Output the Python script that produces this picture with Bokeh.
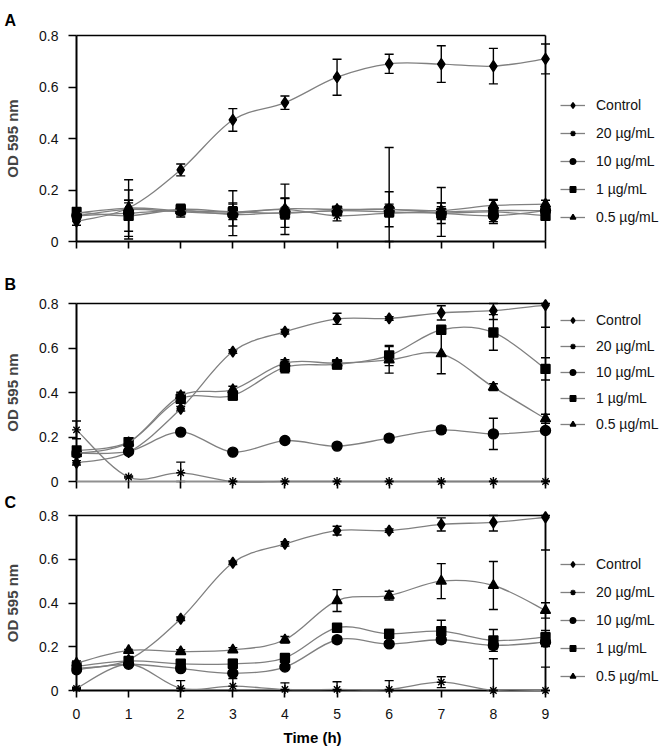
import numpy as np
from bokeh.plotting import figure
from bokeh.models import (ColumnDataSource, Whisker, TeeHead, Legend, LegendItem,
                          FixedTicker, Range1d, CustomJSTickFormatter, Title)
from bokeh.layouts import column
from bokeh.embed import file_html
from bokeh.resources import INLINE

# ---------------- data ----------------
hours = [0, 1, 2, 3, 4, 5, 6, 7, 8, 9]
series_labels = ["Control", "20 \u00b5g/mL", "10 \u00b5g/mL", "1 \u00b5g/mL", "0.5 \u00b5g/mL"]
y_ticks = [0, 0.2, 0.4, 0.6, 0.8]

# Panel A
ctrl_A = [0.078, 0.130, 0.278, 0.472, 0.539, 0.638, 0.690, 0.689, 0.681, 0.709]
ctrl_A_err = [0.015, 0.020, 0.023, 0.044, 0.026, 0.070, 0.037, 0.071, 0.069, 0.058]
c20_A = [0.100, 0.125, 0.115, 0.110, 0.125, 0.100, 0.110, 0.115, 0.120, 0.120]
c20_A_err = [0.020, 0.115, 0.020, 0.087, 0.098, 0.020, 0.255, 0.095, 0.043, 0.020]
c10_A = [0.100, 0.110, 0.120, 0.105, 0.112, 0.120, 0.125, 0.110, 0.100, 0.120]
c10_A_err = [0.015, 0.090, 0.015, 0.045, 0.057, 0.013, 0.068, 0.040, 0.030, 0.020]
c1_A = [0.115, 0.100, 0.125, 0.115, 0.110, 0.120, 0.115, 0.110, 0.115, 0.100]
c1_A_err = [0.010, 0.060, 0.020, 0.030, 0.020, 0.015, 0.020, 0.025, 0.020, 0.015]
c05_A = [0.110, 0.130, 0.120, 0.115, 0.127, 0.125, 0.125, 0.120, 0.140, 0.145]
c05_A_err = [0.010, 0.030, 0.015, 0.020, 0.040, 0.010, 0.020, 0.030, 0.020, 0.015]

# Panel B
ctrl_B = [0.084, 0.132, 0.327, 0.584, 0.673, 0.731, 0.733, 0.758, 0.768, 0.793]
ctrl_B_err = [0.010, 0.008, 0.010, 0.008, 0.010, 0.025, 0.008, 0.032, 0.040, 0.100]
c20_B = [0.232, 0.020, 0.039, 0.000, 0.000, 0.000, 0.000, 0.000, 0.000, 0.000]
c20_B_err = [0.040, 0.005, 0.048, 0.003, 0.003, 0.003, 0.003, 0.003, 0.003, 0.003]
c10_B = [0.127, 0.135, 0.222, 0.132, 0.184, 0.159, 0.195, 0.232, 0.214, 0.229]
c10_B_err = [0.010, 0.008, 0.008, 0.010, 0.010, 0.008, 0.012, 0.015, 0.070, 0.010]
c1_B = [0.139, 0.177, 0.372, 0.386, 0.514, 0.526, 0.566, 0.682, 0.670, 0.506]
c1_B_err = [0.010, 0.010, 0.020, 0.020, 0.025, 0.020, 0.045, 0.010, 0.080, 0.050]
c05_B = [0.125, 0.175, 0.386, 0.413, 0.532, 0.532, 0.547, 0.574, 0.424, 0.282]
c05_B_err = [0.010, 0.010, 0.015, 0.015, 0.015, 0.015, 0.060, 0.090, 0.015, 0.020]

# Panel C
ctrl_C = [0.100, 0.140, 0.328, 0.584, 0.670, 0.731, 0.731, 0.759, 0.769, 0.792]
ctrl_C_err = [0.010, 0.010, 0.008, 0.008, 0.010, 0.020, 0.008, 0.030, 0.040, 0.150]
c20_C = [0.010, 0.120, 0.010, 0.020, 0.005, 0.005, 0.005, 0.038, 0.000, 0.000]
c20_C_err = [0.005, 0.010, 0.035, 0.035, 0.030, 0.035, 0.040, 0.025, 0.145, 0.107]
c10_C = [0.095, 0.120, 0.100, 0.079, 0.107, 0.232, 0.213, 0.232, 0.206, 0.221]
c10_C_err = [0.010, 0.010, 0.010, 0.010, 0.010, 0.015, 0.010, 0.015, 0.015, 0.020]
c1_C = [0.110, 0.135, 0.122, 0.122, 0.149, 0.287, 0.259, 0.271, 0.229, 0.244]
c1_C_err = [0.020, 0.020, 0.015, 0.020, 0.010, 0.010, 0.020, 0.050, 0.050, 0.030]
c05_C = [0.125, 0.183, 0.178, 0.186, 0.232, 0.411, 0.434, 0.500, 0.480, 0.366]
c05_C_err = [0.010, 0.005, 0.008, 0.010, 0.015, 0.050, 0.020, 0.080, 0.110, 0.035]

# ---------------- styling ----------------
FONT = "Liberation Sans"
markers = ["diamond", "asterisk", "circle", "square", "triangle"]
marker_sizes = [11, 9, 10, 9, 10]
LINE_GRAY = "#808080"
X_MIN, X_MAX = 0, 9
Y_MIN, Y_MAX = 0, 0.8
FIG_W = 662
BORDER_L = 71
INNER_W = 469   # px between x=0 and x=9
PAD = 5         # px padding inside the frame so edge markers are not clipped


def smooth_ctrl(xs, ys):
    xs = np.asarray(xs, float)
    ys = np.asarray(ys, float)
    n = len(xs)
    out = {k: [] for k in ("x0", "y0", "x1", "y1", "cx0", "cy0", "cx1", "cy1")}
    for i in range(n - 1):
        i0 = max(i - 1, 0)
        i3 = min(i + 2, n - 1)
        out["x0"].append(xs[i]); out["y0"].append(ys[i])
        out["x1"].append(xs[i + 1]); out["y1"].append(ys[i + 1])
        out["cx0"].append(xs[i] + (xs[i + 1] - xs[i0]) / 6)
        out["cy0"].append(ys[i] + (ys[i + 1] - ys[i0]) / 6)
        out["cx1"].append(xs[i + 1] - (xs[i3] - xs[i]) / 6)
        out["cy1"].append(ys[i + 1] - (ys[i3] - ys[i]) / 6)
    return out


def make_panel(letter, values, errs, inner_h, fig_h, border_top, border_bottom,
               title_standoff, leg_vy, leg_spacing, show_x_labels, bottom_color):
    ppu = INNER_W / (X_MAX - X_MIN)
    frame_w = FIG_W - BORDER_L
    x_start = X_MIN - PAD / ppu
    x_end = x_start + frame_w / ppu
    pad_y = PAD * (Y_MAX - Y_MIN) / inner_h
    p = figure(width=FIG_W, height=fig_h, output_backend="svg", toolbar_location=None,
               x_range=Range1d(x_start, x_end),
               y_range=Range1d(Y_MIN - pad_y, Y_MAX + pad_y),
               min_border_left=BORDER_L, min_border_right=0,
               min_border_top=border_top, min_border_bottom=border_bottom)
    p.outline_line_color = None
    p.grid.visible = False
    p.background_fill_color = "white"
    p.border_fill_color = "white"

    # panel letter as left-shifted title
    p.title.text = letter
    p.title.align = "left"
    p.title.offset = -67
    p.title.standoff = title_standoff
    p.title.text_font = FONT
    p.title.text_font_style = "bold"
    p.title.text_font_size = "16px"
    p.title.text_color = "black"

    # frame lines (axes + border)
    p.segment(x0=[X_MIN, X_MIN, X_MIN, X_MAX], y0=[Y_MIN, Y_MIN, Y_MAX, Y_MIN],
              x1=[X_MIN, X_MAX, X_MAX, X_MAX], y1=[Y_MAX, Y_MIN, Y_MAX, Y_MAX],
              line_color=["black", bottom_color, "black", "black"],
              line_width=[2, 2, 1.6, 1.6])

    items = []
    for k in range(5):
        src = ColumnDataSource(smooth_ctrl(hours, values[k]))
        br = p.bezier(x0="x0", y0="y0", x1="x1", y1="y1", cx0="cx0", cy0="cy0",
                      cx1="cx1", cy1="cy1", source=src, line_color=LINE_GRAY, line_width=1.3)
        v = np.asarray(values[k]); e = np.asarray(errs[k])
        wsrc = ColumnDataSource(dict(x=hours,
                                     upper=np.clip(v + e, Y_MIN, Y_MAX),
                                     lower=np.clip(v - e, Y_MIN, Y_MAX)))
        w = Whisker(source=wsrc, base="x", upper="upper", lower="lower",
                    line_color="black", line_width=1.4,
                    upper_head=TeeHead(size=9, line_color="black", line_width=1.4),
                    lower_head=TeeHead(size=9, line_color="black", line_width=1.4))
        p.add_layout(w)
        sr = p.scatter(x=hours, y=values[k], marker=markers[k], size=marker_sizes[k],
                       fill_color="black", line_color="black", line_width=1.4)
        items.append(LegendItem(label=series_labels[k], renderers=[br, sr]))

    leg = Legend(items=items, location=(489, leg_vy), glyph_width=25, glyph_height=14,
                 label_height=14, spacing=leg_spacing, label_standoff=11, padding=0, margin=0,
                 border_line_color=None, background_fill_alpha=0,
                 label_text_font=FONT, label_text_font_size="14px", label_text_color="#111111")
    p.add_layout(leg)

    # axes
    p.yaxis.ticker = FixedTicker(ticks=y_ticks)
    p.yaxis.formatter = CustomJSTickFormatter(code="return tick == 0 ? '0' : tick.toFixed(1);")
    p.yaxis.axis_line_color = None
    p.yaxis.major_tick_in = PAD
    p.yaxis.major_tick_out = 3
    p.yaxis.major_tick_line_width = 1.6
    p.yaxis.minor_tick_line_color = None
    p.yaxis.major_label_standoff = 10
    p.yaxis.major_label_text_font = FONT
    p.yaxis.major_label_text_font_size = "14px"
    p.yaxis.major_label_text_color = "#111111"
    p.yaxis.axis_label = "OD 595 nm"
    p.yaxis.axis_label_text_font = FONT
    p.yaxis.axis_label_text_font_style = "bold"
    p.yaxis.axis_label_text_font_size = "15px"
    p.yaxis.axis_label_standoff = 15

    p.xaxis.ticker = FixedTicker(ticks=hours)
    p.xaxis.axis_line_color = None
    p.xaxis.major_tick_in = PAD
    p.xaxis.major_tick_out = 2
    p.xaxis.major_tick_line_width = 1.6
    p.xaxis.minor_tick_line_color = None
    if show_x_labels:
        p.xaxis.major_label_text_font = FONT
        p.xaxis.major_label_text_font_size = "14px"
        p.xaxis.major_label_text_color = "#111111"
        p.xaxis.major_label_standoff = 11
        p.add_layout(Title(text="Time (h)", align="left", offset=212, standoff=10,
                           text_font=FONT, text_font_style="bold", text_font_size="15px",
                           text_color="black"), "below")
    else:
        p.xaxis.formatter = CustomJSTickFormatter(code="return '';")
        p.xaxis.major_label_standoff = 0
    return p


pA = make_panel("A", [ctrl_A, c20_A, c10_A, c1_A, c05_A],
                [ctrl_A_err, c20_A_err, c10_A_err, c1_A_err, c05_A_err],
                inner_h=206, fig_h=262, border_top=30, border_bottom=16, title_standoff=4,
                leg_vy=21, leg_spacing=12, show_x_labels=False, bottom_color="black")
pB = make_panel("B", [ctrl_B, c20_B, c10_B, c1_B, c05_B],
                [ctrl_B_err, c20_B_err, c10_B_err, c1_B_err, c05_B_err],
                inner_h=178, fig_h=228, border_top=36, border_bottom=4, title_standoff=12,
                leg_vy=54, leg_spacing=10, show_x_labels=False, bottom_color="#909090")
pC = make_panel("C", [ctrl_C, c20_C, c10_C, c1_C, c05_C],
                [ctrl_C_err, c20_C_err, c10_C_err, c1_C_err, c05_C_err],
                inner_h=175, fig_h=262, border_top=20, border_bottom=57, title_standoff=0,
                leg_vy=11, leg_spacing=12, show_x_labels=True, bottom_color="black")

layout = column(pA, pB, pC, spacing=0)
open("out.html", "w").write(file_html(layout, INLINE))
